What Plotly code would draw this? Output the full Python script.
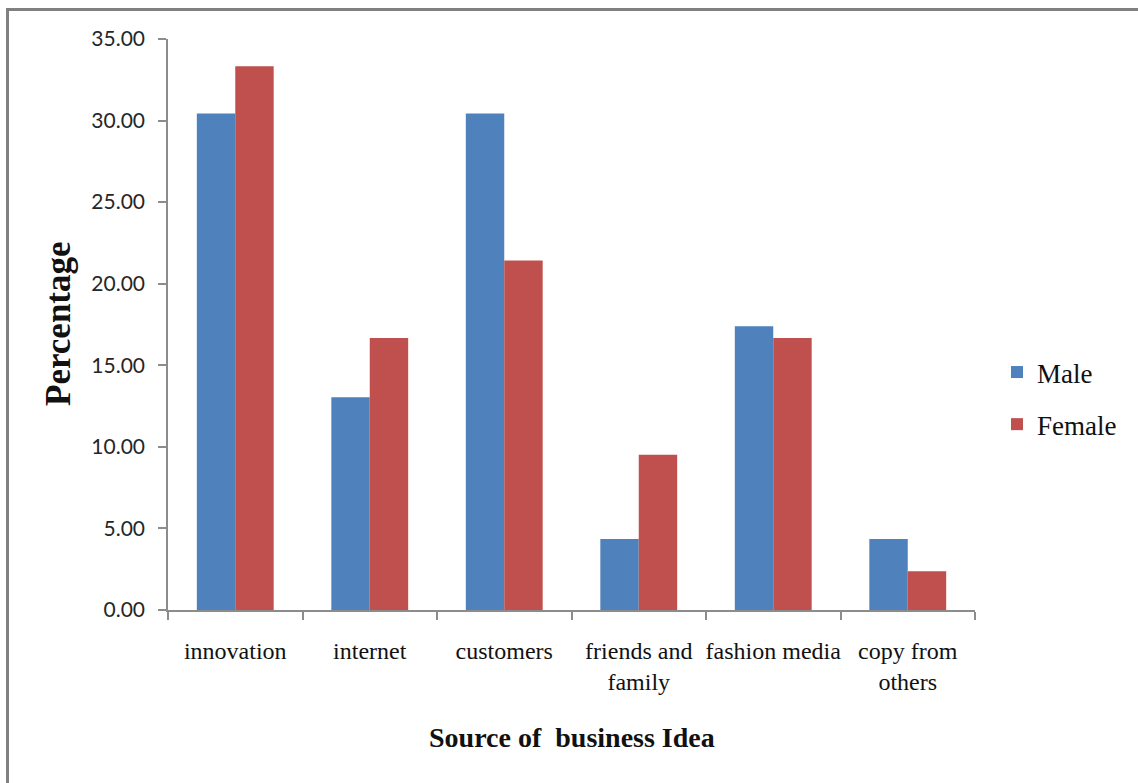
import plotly.graph_objects as go

# Source of business idea, share of respondents (%) by gender
categories = ["innovation", "internet", "customers", "friends and<br>family",
              "fashion media", "copy from<br>others"]
male = [30.43, 13.04, 30.43, 4.35, 17.39, 4.35]
female = [33.33, 16.67, 21.43, 9.52, 16.67, 2.38]
y_ticks = [0, 5, 10, 15, 20, 25, 30, 35]

W, H = 1138, 783
L, R, T, B = 168, 163, 39, 173

fig = go.Figure()
fig.add_trace(go.Bar(name="Male", x=categories, y=male,
                     marker=dict(color="#4F81BD", line=dict(width=0)),
                     legendgroup="m"))
fig.add_trace(go.Bar(name="Female", x=categories, y=female,
                     marker=dict(color="#C0504D", line=dict(width=0)),
                     legendgroup="f"))

axis_col = "#8C8C8C"
fig.update_layout(
    width=W, height=H, autosize=False,
    margin=dict(l=L, r=R, t=T, b=B, pad=0),
    paper_bgcolor="white", plot_bgcolor="white",
    barmode="group", bargap=0.4286, bargroupgap=0,
    showlegend=True,
    legend=dict(x=(997 - L) / (W - L - R), y=(610 - 348) / (H - T - B),
                xanchor="left", yanchor="top",
                font=dict(family="Liberation Serif", size=27, color="#111"),
                tracegroupgap=14, itemwidth=30,
                bgcolor="rgba(0,0,0,0)"),
    xaxis=dict(
        showline=True, linecolor=axis_col, linewidth=1.5,
        ticks="outside", tickson="boundaries", ticklen=8,
        tickcolor=axis_col, tickwidth=1.5,
        showgrid=False, zeroline=False, tickangle=0,
        tickfont=dict(family="Liberation Serif", size=24, color="#111"),
        ticklabelstandoff=18,
    ),
    yaxis=dict(
        range=[0, 35], tickvals=y_ticks, tickformat=".2f",
        showline=True, linecolor=axis_col, linewidth=1.5,
        ticks="outside", ticklen=8, tickcolor=axis_col, tickwidth=1.5,
        showgrid=False, zeroline=False,
        tickfont=dict(family="Lato", size=21, color="#262626"),
        ticklabelstandoff=9,
    ),
    font=dict(family="Liberation Serif"),
)

pw, ph = W - L - R, H - T - B
fig.add_annotation(text="<b>Source of \u00a0business Idea</b>", xref="paper", yref="paper",
                   x=0.5, y=(610 - 737) / ph, xanchor="center", yanchor="middle",
                   showarrow=False,
                   font=dict(family="Liberation Serif", size=28, color="#111"))
fig.add_annotation(text="<b>Percentage</b>", xref="paper", yref="paper",
                   x=(58 - L) / pw, y=(610 - 323) / ph, xanchor="center", yanchor="middle",
                   textangle=-90, showarrow=False,
                   font=dict(family="Liberation Serif", size=35, color="#111"))

# chart frame
fig.add_shape(type="rect", xref="paper", yref="paper",
              x0=(7.5 - L) / pw, x1=(W + 20 - L) / pw,
              y0=(610 - H - 20) / ph, y1=(610 - 9.5) / ph,
              line=dict(color="#808080", width=3), fillcolor="rgba(0,0,0,0)",
              layer="below")

fig.write_html("out.html")
